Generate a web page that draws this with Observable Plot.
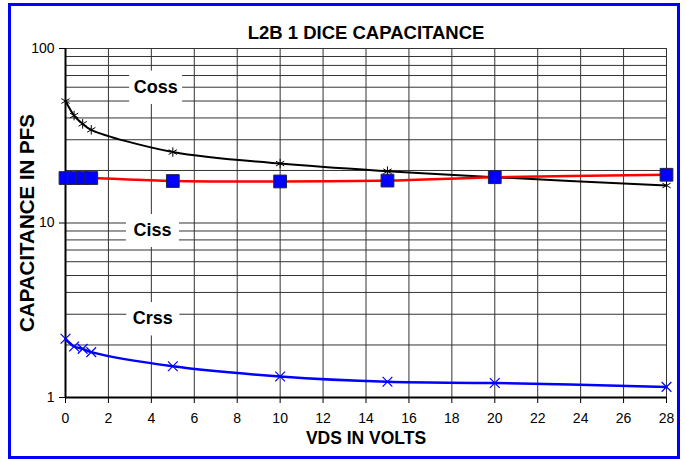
<!DOCTYPE html>
<html>
<head>
<meta charset="utf-8">
<script src="https://cdn.jsdelivr.net/npm/d3@7"></script>
<script src="https://cdn.jsdelivr.net/npm/@observablehq/plot@0.6"></script>
<style>
  html, body { margin: 0; padding: 0; background: #fff; }
  #wrap { position: relative; width: 686px; height: 460px; overflow: hidden; }
  #border { position: absolute; left: 8px; top: 3px; width: 672px; height: 456px; box-sizing: border-box; border: 3px solid #0000ff; pointer-events: none; }
  svg { font-family: "Liberation Sans", Arial, sans-serif; }
</style>
</head>
<body>
<div id="wrap"><div id="border"></div></div>
<script>
// ---- data ----
const vds = [0, 0.4, 0.8, 1.2, 5, 10, 15, 20, 28];
const coss = [50, 41.3, 37, 34.2, 25.5, 21.9, 19.8, 18.3, 16.4];
const ciss = [18.1, 18.1, 18.1, 18.1, 17.4, 17.3, 17.5, 18.3, 18.9];
const crss = [2.17, 1.96, 1.90, 1.82, 1.51, 1.32, 1.23, 1.21, 1.15];
const seriesNames = ["Coss", "Ciss", "Crss"];
const labelX = [4.2, 4.05, 4.07];
const labelY = [60, 9.06, 2.83];
const xTicks = [0, 2, 4, 6, 8, 10, 12, 14, 16, 18, 20, 22, 24, 26, 28];
const yTicks = [1, 10, 100];
const yGrid = [2, 3, 4, 5, 6, 7, 8, 9, 10, 20, 30, 40, 50, 60, 70, 80, 90, 100];
const xGrid = [2, 4, 6, 8, 10, 12, 14, 16, 18, 20, 22, 24, 26, 28];
const title = "L2B 1 DICE CAPACITANCE";
const xLabel = "VDS IN VOLTS";
const yLabel = "CAPACITANCE IN PFS";

const cossData = vds.map((v, i) => ({x: v, y: coss[i]}));
const cissData = vds.map((v, i) => ({x: v, y: ciss[i]}));
const crssData = vds.map((v, i) => ({x: v, y: crss[i]}));
const labels = seriesNames.map((n, i) => ({name: n, x: labelX[i], y: labelY[i]}));

const chart = Plot.plot({
  width: 686,
  height: 460,
  marginLeft: 65,
  marginRight: 20,
  marginTop: 48,
  marginBottom: 63,
  style: {fontFamily: "Liberation Sans, Arial, sans-serif", background: "transparent"},
  x: {domain: [0, 28]},
  y: {type: "log", domain: [1, 100]},
  marks: [
    Plot.ruleY(yGrid, {y: d => d, stroke: "#333", strokeWidth: 1}),
    Plot.ruleX(xGrid, {x: d => d, stroke: "#333", strokeWidth: 1}),
    // label boxes
    Plot.dot(labels, {x: "x", y: "y", symbol: "square", r: 18.6, fill: "white", dx: -10}),
    Plot.dot(labels, {x: "x", y: "y", symbol: "square", r: 18.6, fill: "white", dx: 10}),
    Plot.text(labels, {x: "x", y: "y", text: "name", fontSize: 18, fontWeight: "bold", fill: "black"}),
    // axes
    Plot.axisY({ticks: yTicks, tickFormat: d => String(d), tickSize: 6, tickPadding: 5, fontSize: 14, label: null, stroke: "#000"}),
    Plot.axisX({ticks: xTicks, tickFormat: d => String(d), tickSize: 6, tickPadding: 10, fontSize: 14, label: null, stroke: "#000"}),
    Plot.ruleX([0], {stroke: "black", strokeWidth: 2}),
    Plot.ruleY([1], {stroke: "black", strokeWidth: 2}),
    // series
    Plot.line(cossData, {x: "x", y: "y", stroke: "black", strokeWidth: 2, curve: "catmull-rom"}),
    Plot.line(cissData, {x: "x", y: "y", stroke: "#ff0000", strokeWidth: 2.5, curve: "catmull-rom"}),
    Plot.line(crssData, {x: "x", y: "y", stroke: "#0000ff", strokeWidth: 2.5, curve: "catmull-rom"}),
    Plot.dot(cossData, {x: "x", y: "y", symbol: "asterisk", r: 4.5, stroke: "black", strokeWidth: 1}),
    Plot.dot(crssData, {x: "x", y: "y", symbol: "times", r: 4.5, stroke: "#0000ff", strokeWidth: 1.2}),
    Plot.dot(cissData, {x: "x", y: "y", symbol: "square", r: 7.2, fill: "#0000ff", stroke: "#222244", strokeWidth: 1}),
    // titles
    Plot.text([title], {frameAnchor: "top", lineAnchor: "middle", dy: -15, text: d => d, fontSize: 18.5, fontWeight: "bold", fill: "black"}),
    Plot.text([xLabel], {frameAnchor: "bottom", lineAnchor: "middle", dy: 41, text: d => d, fontSize: 17.5, fontWeight: "bold", fill: "black"}),
    Plot.text([yLabel], {frameAnchor: "left", dx: -38, rotate: -90, textAnchor: "middle", lineAnchor: "middle", text: d => d, fontSize: 20.5, fontWeight: "bold", fill: "black"})
  ]
});
document.getElementById("wrap").insertBefore(chart, document.getElementById("border"));
</script>
</body>
</html>
